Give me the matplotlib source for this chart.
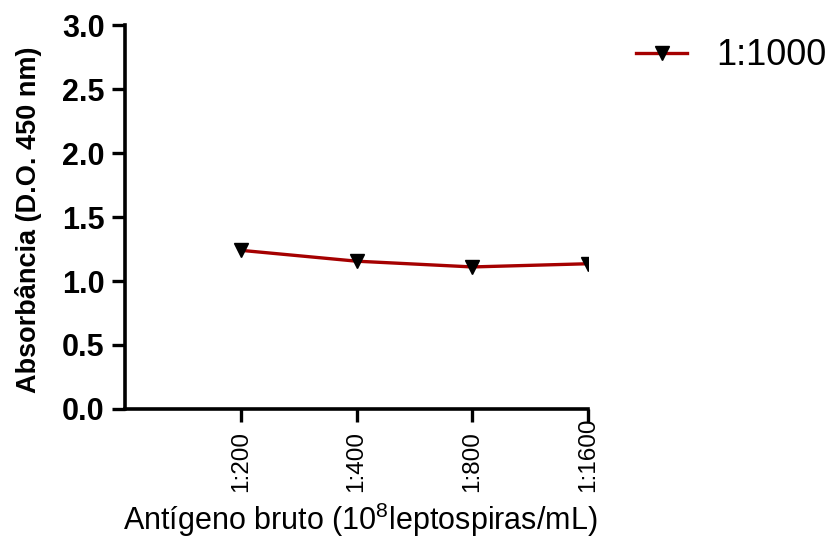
import matplotlib
matplotlib.use('Agg')
import matplotlib.pyplot as plt
from matplotlib import rcParams

rcParams.update({'font.family': 'Liberation Sans'})
rcParams.update({'mathtext.fontset': 'custom'})
rcParams.update({'mathtext.rm': 'Liberation Sans'})
rcParams.update({'mathtext.it': 'Liberation Sans'})
rcParams.update({'axes.linewidth': 2.6})

# data
categories = ['1:200', '1:400', '1:800', '1:1600']
absorbance = [1.24, 1.155, 1.11, 1.135]
series_label = '1:1000'
y_ticks = [0.0, 0.5, 1.0, 1.5, 2.0, 2.5, 3.0]

fig = plt.figure(figsize=(8.32, 5.5), dpi=100)
ax = fig.add_axes([0.150, 0.2564, 0.557, 0.698])

x = list(range(1, len(categories) + 1))
ax.plot(x, absorbance, color='#a50000', linewidth=2.4, marker='v',
        markersize=9.5, markerfacecolor='black', markeredgecolor='black',
        label=series_label)

ax.set_xlim(0, 4)
ax.set_ylim(0, 3.0)
ax.set_xticks(x)
ax.set_xticklabels([])
# category labels, rotated and aligned at their start (bottom)
for xi, lab in zip(x, categories):
    ax.text(xi, -0.216, lab, transform=ax.get_xaxis_transform(), rotation=90,
            ha='center', va='bottom', fontsize=17.5)
ax.set_yticks(y_ticks)
ax.set_yticklabels(['%.1f' % v for v in y_ticks], fontsize=22, fontweight='bold')

ax.spines['top'].set_visible(False)
ax.spines['right'].set_visible(False)
ax.tick_params(axis='both', direction='out', length=9.5, width=2.4)
ax.tick_params(axis='y', pad=5)

fig.text(0.0337, 0.6, 'Absorbância (D.O. 450 nm)', rotation=90,
         ha='center', va='center', fontsize=19.5, fontweight='bold')
fig.text(0.433, 0.036, r'Antígeno bruto (10$^{8}$leptospiras/mL)',
         ha='center', va='baseline', fontsize=22)

ax.legend(loc='center left', bbox_to_anchor=(1.104, 0.92), frameon=False,
          fontsize=26, handlelength=1.4, handletextpad=0.8,
          borderpad=0, borderaxespad=0)

fig.savefig('out.png', dpi=100)
